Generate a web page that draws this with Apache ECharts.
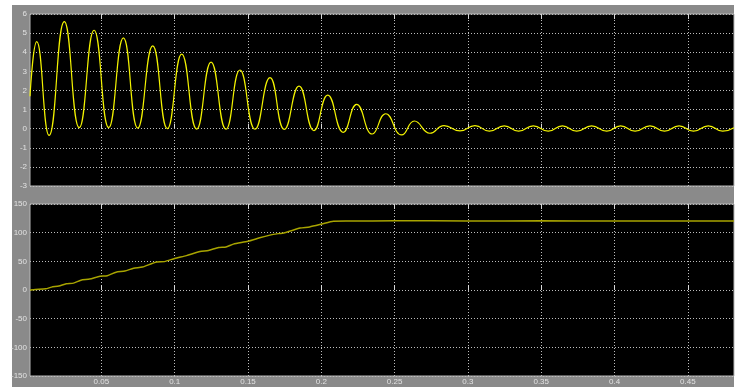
<!DOCTYPE html>
<html>
<head>
<meta charset="utf-8">
<script src="https://cdn.jsdelivr.net/npm/echarts@6/dist/echarts.min.js"></script>
<style>
html,body{margin:0;padding:0;background:#fff;}
#wrap{position:relative;width:738px;height:387px;}
#bg{position:absolute;left:12px;top:5px;width:722px;height:382px;background:#8a8a8a;}
#chart{position:absolute;left:0;top:0;width:738px;height:387px;}
</style>
</head>
<body>
<div id="wrap"><div id="bg"></div><div id="chart"></div></div>
<script>
// x-axis tick labels (time, s)
const xTicks = [0.05, 0.1, 0.15, 0.2, 0.25, 0.3, 0.35, 0.4, 0.45];
const xTickLabels = ['0.05', '0.1', '0.15', '0.2', '0.25', '0.3', '0.35', '0.4', '0.45'];
// top panel: damped oscillation [t, value] read at extrema
const topSignal = [
  [0.0013, 1.7], [0.0059, 4.55], [0.0143, -0.35], [0.0247, 5.6], [0.0349, 0.05],
  [0.045, 5.15], [0.055, 0.05], [0.065, 4.75], [0.0748, 0.03], [0.085, 4.33],
  [0.095, 0.0], [0.1048, 3.9], [0.115, -0.02], [0.1248, 3.48], [0.135, -0.03],
  [0.1445, 3.07], [0.1548, -0.03], [0.165, 2.67], [0.1748, -0.04], [0.1848, 2.23],
  [0.195, -0.1], [0.2044, 1.76], [0.215, -0.19], [0.2241, 1.27], [0.2348, -0.28],
  [0.2439, 0.78], [0.2548, -0.33], [0.2635, 0.4], [0.2741, -0.24], [0.2837, 0.16],
  [0.2946, -0.12], [0.3048, 0.16], [0.3146, -0.13], [0.3248, 0.15], [0.3346, -0.13],
  [0.3446, 0.15], [0.3548, -0.13], [0.3644, 0.15], [0.3742, -0.13], [0.3844, 0.15],
  [0.3947, -0.13], [0.4042, 0.15], [0.4140, -0.13], [0.4242, 0.15], [0.4341, -0.13],
  [0.444, 0.15], [0.4539, -0.13], [0.464, 0.15], [0.4738, -0.13], [0.4815, 0.05]
];
// bottom panel: ramp then constant [t, value]
const bottomSignal = [
  [0.0013, 0], [0.005, 1], [0.012, 2], [0.016, 5], [0.021, 7], [0.026, 11],
  [0.031, 12], [0.036, 17], [0.042, 19], [0.049, 24], [0.054, 25], [0.06, 31],
  [0.066, 33], [0.072, 38], [0.078, 40], [0.0877, 49], [0.093, 49.5], [0.1, 55],
  [0.108, 60], [0.1173, 67], [0.123, 69], [0.13, 74], [0.135, 75], [0.14, 80],
  [0.15, 85], [0.158, 91], [0.1673, 97], [0.175, 100], [0.1855, 108], [0.192, 110],
  [0.2003, 115], [0.2082, 120], [0.2196, 120.2], [0.25, 120.8], [0.3, 120.4],
  [0.35, 120.6], [0.4, 120.3], [0.45, 120.5], [0.4815, 120.3]
];
const topYTicks = { min: -3, max: 6, step: 1 };
const bottomYTicks = { min: -150, max: 150, step: 50 };

const X_MIN = 0.0013, X_MAX = 0.4815;
const gridColor = '#bdbdbd';
const labelColor = '#e2e2e2';
const font = 'Liberation Sans, Arial, sans-serif';

function xAxisBottom(gridIndex, showLabels) {
  return {
    type: 'value', gridIndex, min: X_MIN, max: X_MAX, position: 'bottom',
    axisLine: { show: false },
    axisTick: { show: true, inside: true, length: 5, customValues: xTicks, lineStyle: { color: '#d8d8d8', width: 1 } },
    axisLabel: {
      show: showLabels, customValues: xTicks, color: labelColor, fontSize: 8, fontFamily: font, margin: 2,
      formatter: v => { const i = xTicks.findIndex(t => Math.abs(t - v) < 1e-9); return i >= 0 ? xTickLabels[i] : ''; }
    },
    splitLine: { show: true, lineStyle: { color: gridColor, type: [1, 2], width: 1 } }
  };
}
function xAxisTop(gridIndex) {
  return {
    type: 'value', gridIndex, min: X_MIN, max: X_MAX, position: 'top',
    axisLine: { show: false },
    axisTick: { show: true, inside: true, length: 5, customValues: xTicks, lineStyle: { color: '#d8d8d8', width: 1 } },
    axisLabel: { show: false, customValues: xTicks },
    splitLine: { show: false }
  };
}
function yAxis(gridIndex, t) {
  return {
    type: 'value', gridIndex, min: t.min, max: t.max, interval: t.step,
    axisLine: { show: false },
    axisTick: { show: false },
    axisLabel: { color: labelColor, fontSize: 8, fontFamily: font, margin: 3 },
    splitLine: { show: true, lineStyle: { color: gridColor, type: [1, 2], width: 1 } }
  };
}

const chart = echarts.init(document.getElementById('chart'), null, { renderer: 'canvas' });
chart.setOption({
  backgroundColor: 'transparent',
  animation: false,
  grid: [
    { left: 30, top: 14, width: 704, height: 172, show: true, backgroundColor: '#000', borderColor: '#b8b8b8', borderWidth: 1 },
    { left: 30, top: 204, width: 704, height: 172, show: true, backgroundColor: '#000', borderColor: '#b8b8b8', borderWidth: 1 }
  ],
  xAxis: [xAxisBottom(0, false), xAxisTop(0), xAxisBottom(1, true), xAxisTop(1)],
  yAxis: [yAxis(0, topYTicks), yAxis(1, bottomYTicks)],
  series: [
    { type: 'line', xAxisIndex: 0, yAxisIndex: 0, data: topSignal, smooth: 0.5, showSymbol: false,
      lineStyle: { color: '#f2f200', width: 1.2 }, clip: true },
    { type: 'line', xAxisIndex: 2, yAxisIndex: 1, data: bottomSignal, smooth: 0.2, showSymbol: false,
      lineStyle: { color: '#a8a400', width: 1.5 }, clip: true }
  ]
});
</script>
</body>
</html>
